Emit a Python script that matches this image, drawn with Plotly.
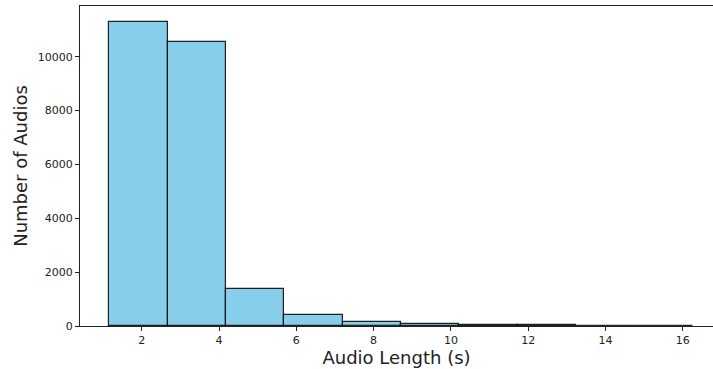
import plotly.graph_objects as go

# Histogram of audio clip durations (seconds): bin edges and counts per bin
bin_edges = [1.16, 2.67, 4.18, 5.69, 7.20, 8.71, 10.22, 11.73, 13.24, 14.75, 16.26]
counts = [11300, 10560, 1375, 405, 165, 72, 40, 25, 10, 5]

x_ticks = [2, 4, 6, 8, 10, 12, 14, 16]
y_ticks = [0, 2000, 4000, 6000, 8000, 10000]

centers = [(a + b) / 2 for a, b in zip(bin_edges[:-1], bin_edges[1:])]
widths = [b - a for a, b in zip(bin_edges[:-1], bin_edges[1:])]

fig = go.Figure(
    go.Bar(
        x=centers,
        y=counts,
        width=widths,
        marker=dict(color="#87CEEB", line=dict(color="rgba(0,0,0,0.85)", width=1.2)),
    )
)

font_family = "DejaVu Sans, sans-serif"
fig.update_layout(
    width=713,
    height=369,
    margin=dict(l=80, r=0, t=6, b=43),
    plot_bgcolor="white",
    paper_bgcolor="white",
    showlegend=False,
    bargap=0,
    font=dict(family=font_family, color="#222222"),
)
fig.update_xaxes(
    range=[0.404, 16.78],
    tickvals=x_ticks,
    ticktext=[str(t) for t in x_ticks],
    ticks="outside",
    ticklen=4,
    tickcolor="#222",
    tickfont=dict(size=11, family=font_family),
    showline=True,
    linecolor="#222",
    linewidth=1,
    mirror=True,
    showgrid=False,
    zeroline=False,
    title=dict(text="Audio Length (s)", font=dict(size=18, family=font_family), standoff=1),
)
fig.update_yaxes(
    range=[0, 11883],
    tickvals=y_ticks,
    ticktext=[str(t) for t in y_ticks],
    ticks="outside",
    ticklen=4,
    tickcolor="#222",
    tickfont=dict(size=11, family=font_family),
    showline=True,
    linecolor="#222",
    linewidth=1,
    showgrid=False,
    zeroline=False,
    title=dict(text="Number of Audios", font=dict(size=18, family=font_family), standoff=5),
)

fig.write_html("out.html")
